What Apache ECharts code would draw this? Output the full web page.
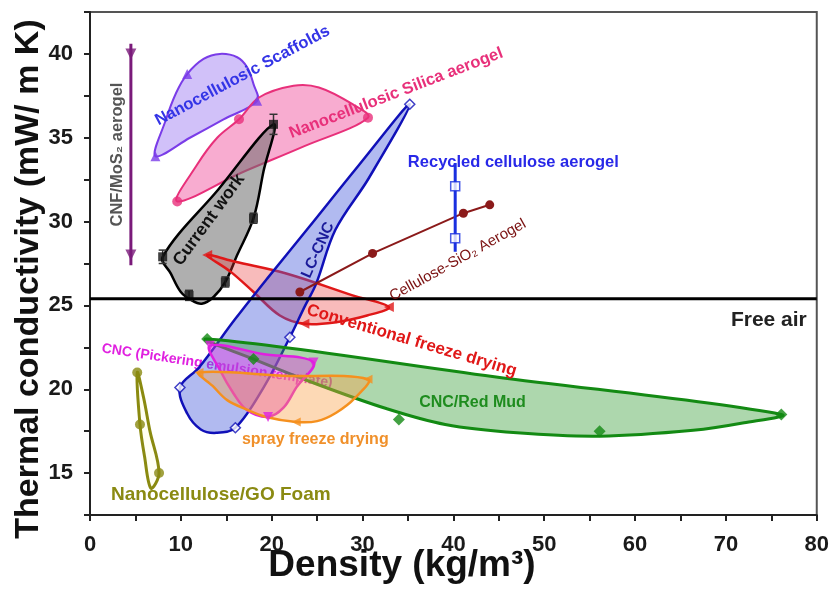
<!DOCTYPE html>
<html><head><meta charset="utf-8">
<script src="https://cdn.jsdelivr.net/npm/echarts@6/dist/echarts.min.js"></script>
<style>html,body{margin:0;padding:0;background:#fff}#c{width:832px;height:590px}</style>
</head><body><div id="c"></div>
<script>
// ---- data ----
const yTickLabels = [15, 20, 25, 30, 35, 40];
const xTickLabels = [0, 10, 20, 30, 40, 50, 60, 70, 80];
const freeAir = 25.4;

const scaffoldsX = [7.2, 8.3, 9.5, 10.7, 12.5, 14.3, 16.2, 17.3, 18.0, 18.4, 14.7, 11.0];
const scaffoldsY = [33.9, 36.0, 37.7, 38.8, 39.7, 40.0, 39.8, 39.2, 38.2, 37.2, 36.1, 35.0];
const scaffoldsMarkX = [7.2, 10.7, 18.4];
const scaffoldsMarkY = [33.9, 38.8, 37.2];

const silicaX = [9.6, 11.8, 14.0, 16.4, 18.6, 22.4, 25.2, 28.9, 30.6, 23.6, 16.6];
const silicaY = [31.2, 33.4, 35.0, 36.1, 37.4, 38.1, 38.0, 37.0, 36.2, 34.5, 32.9];
const silicaMarkX = [9.6, 16.4, 30.6];
const silicaMarkY = [31.2, 36.1, 36.2];

const currentX = [20.2, 14.1, 8.0, 8.9, 10.0, 11.2, 12.3, 13.6, 14.9, 16.2, 18.0, 19.1];
const currentY = [35.8, 31.9, 27.9, 26.9, 25.8, 25.3, 25.1, 25.5, 26.4, 28.0, 30.2, 33.0];
const currentMarkX = [20.2, 18.0, 8.0, 10.9, 14.9];
const currentMarkY = [35.8, 30.2, 27.9, 25.6, 26.4];
const currentErr = [0.6, 0.3, 0.4, 0.3, 0.3];

const lccncX = [35.2, 29.5, 24.0, 19.5, 16.0, 12.0, 9.9, 10.7, 12.2, 13.9, 16.0, 19.1, 22.0, 23.6, 24.9, 27.0, 30.7];
const lccncY = [37.0, 33.3, 29.6, 26.6, 24.2, 21.3, 20.1, 18.55, 17.6, 17.4, 17.7, 20.1, 23.1, 24.9, 26.3, 29.5, 32.6];
const lccncMarkX = [35.2, 22.0, 16.0, 9.9];
const lccncMarkY = [37.0, 23.1, 17.7, 20.1];

const convX = [12.9, 15.5, 18.0, 20.9, 23.6, 27.1, 30.5, 32.9, 28.9, 21.6, 16.0];
const convY = [28.0, 27.0, 25.8, 24.4, 23.9, 24.0, 24.4, 24.9, 25.6, 26.9, 27.6];
const convMarkX = [12.9, 23.6, 32.9];
const convMarkY = [28.0, 23.9, 24.9];

const sio2X = [23.1, 31.1, 41.1, 44.0];
const sio2Y = [25.8, 28.1, 30.5, 31.0];

const recycledX = [40.2, 40.2];
const recycledY = [32.1, 29.0];
const recycledRange = [28.2, 33.5];

const mos2X = [4.5, 4.5];
const mos2Y = [40.0, 28.0];
const mos2Range = [27.4, 40.6];

const redMudX = [12.9, 18.0, 25.0, 32.6, 39.1, 47.0, 56.1, 66.4, 72.0, 76.1, 44.5];
const redMudY = [23.0, 21.8, 20.3, 18.85, 17.9, 17.4, 17.2, 17.55, 18.0, 18.5, 20.75];
const redMudMarkX = [12.9, 18.0, 34.0, 56.1, 76.1];
const redMudMarkY = [23.0, 21.8, 18.2, 17.5, 18.5];

const pickX = [13.2, 14.35, 15.8, 17.3, 19.6, 21.3, 22.7, 24.6, 19.0];
const pickY = [22.6, 21.1, 19.75, 18.75, 18.35, 18.9, 20.1, 21.6, 22.1];
const pickMarkX = [13.2, 19.6, 24.6];
const pickMarkY = [22.6, 18.35, 21.6];

const sprayX = [12.0, 13.5, 15.1, 17.2, 19.4, 22.7, 25.0, 27.1, 29.2, 30.6, 21.3];
const sprayY = [21.0, 20.2, 19.35, 18.8, 18.35, 18.05, 18.1, 18.6, 19.5, 20.6, 20.8];
const sprayMarkX = [12.0, 22.7, 30.6];
const sprayMarkY = [21.0, 18.05, 20.6];

const goX = [5.2, 5.5, 6.0, 6.7, 7.6, 6.6, 5.9];
const goY = [21.0, 17.9, 16.0, 14.1, 15.0, 17.5, 19.5];
const goMarkX = [5.2, 5.5, 7.6];
const goMarkY = [21.0, 17.9, 15.0];

// ---- annotations (text anchored in data coordinates) ----
const FONT = "'Liberation Sans', Arial, sans-serif";
const labelsOver = [
  {t: 'Nanocellulosic Scaffolds', x: 16.8, y: 38.7, a: 28, c: '#3434e6', s: 16.5},
  {t: 'Nanocellulosic Silica aerogel', x: 33.7, y: 37.65, a: 21, c: '#e8307a', s: 16.5},
  {t: 'CNF/MoS\u2082 aerogel', x: 3.0, y: 34.0, a: 90, c: '#555555', s: 16.5},
  {t: 'Current work', x: 13.1, y: 30.1, a: 54, c: '#111111', s: 17.5},
  {t: 'LC-CNC', x: 25.1, y: 28.3, a: 66, c: '#1a1a9a', s: 15.5},
  {t: 'Recycled cellulose aerogel', x: 46.6, y: 33.55, a: 0, c: '#2828e8', s: 16.5},
  {t: 'Cellulose-SiO\u2082 Aerogel', x: 40.5, y: 27.7, a: 29, c: '#7a1010', s: 15, n: true},
  {t: 'Conventional freeze drying', x: 35.4, y: 22.9, a: -16.5, c: '#e01818', s: 17},
  {t: 'CNC/Red Mud', x: 42.1, y: 19.2, a: 0, c: '#1e8c1e', s: 16},
  {t: 'spray freeze drying', x: 24.8, y: 17.0, a: 0, c: '#f0902a', s: 16},
  {t: 'Nanocellulose/GO Foam', x: 14.4, y: 13.7, a: 0, c: '#8a8a12', s: 19}
];
const labelsUnder = [
  {t: 'CNC (Pickering emulsion template)', x: 14.0, y: 21.4, a: -8.6, c: '#e020e0', s: 14}
];

function areaSeries(xs, ys, stroke, fill, lw) {
  return {
    type: 'custom', coordinateSystem: 'cartesian2d', silent: true, clip: true,
    data: xs.map((x, i) => [x, ys[i]]),
    renderItem(params, api) {
      if (params.dataIndex !== 0) return null;
      const pts = xs.map((x, i) => api.coord([x, ys[i]]));
      return {type: 'polygon', shape: {points: pts, smooth: 0.35},
        style: {fill: fill, stroke: stroke, lineWidth: lw, lineJoin: 'round'}};
    }
  };
}
function markSeries(xs, ys, symbol, size, color, hollow, rotate) {
  return {
    type: 'scatter', silent: true, symbol: symbol, symbolSize: size, symbolRotate: rotate || 0,
    data: xs.map((x, i) => [x, ys[i]]),
    itemStyle: hollow ? {color: '#ffffff', borderColor: color, borderWidth: 1.5} : {color: color},
    z: 3
  };
}
function vline(x, range, color, w) {
  return {type: 'line', silent: true, symbol: 'none', data: [[x, range[0]], [x, range[1]]],
    lineStyle: {color: color, width: w}, z: 3};
}
function labelSeries(list, z) {
  return {
    type: 'custom', coordinateSystem: 'cartesian2d', silent: true, clip: false, z: z,
    data: list.map(l => [l.x, l.y]),
    renderItem(params, api) {
      const l = list[params.dataIndex];
      const p = api.coord([l.x, l.y]);
      return {type: 'text', x: p[0], y: p[1], rotation: l.a * Math.PI / 180,
        style: {text: l.t, fill: l.c, font: (l.n ? '' : 'bold ') + l.s + 'px ' + FONT,
          align: 'center', verticalAlign: 'middle'}};
    }
  };
}

const chart = echarts.init(document.getElementById('c'));
chart.setOption({
  animation: false,
  backgroundColor: '#ffffff',
  grid: {left: 90, right: 8, top: 12, bottom: 75, show: true, borderColor: '#555', borderWidth: 2, backgroundColor: 'transparent'},
  xAxis: {
    type: 'value', min: 0, max: 80, interval: 5,
    axisLine: {show: true, lineStyle: {color: '#222', width: 2}},
    axisTick: {show: true, length: 6, lineStyle: {color: '#222', width: 2}},
    splitLine: {show: false},
    axisLabel: {margin: 19, color: '#1a1a1a', fontWeight: 'bold', fontSize: 22, fontFamily: FONT,
      formatter: v => xTickLabels.indexOf(v) >= 0 ? String(v) : ''}
  },
  yAxis: {
    type: 'value', min: 12.5, max: 42.5, interval: 2.5,
    axisLine: {show: true, lineStyle: {color: '#222', width: 2}},
    axisTick: {show: true, length: 6, lineStyle: {color: '#222', width: 2}},
    splitLine: {show: false},
    axisLabel: {margin: 17, color: '#1a1a1a', fontWeight: 'bold', fontSize: 22, fontFamily: FONT,
      formatter: v => yTickLabels.indexOf(v) >= 0 ? String(v) : ''}
  },
  graphic: [
    {type: 'text', x: 29, y: 279, rotation: Math.PI / 2,
      style: {text: 'Thermal conductivity (mW/ m K)', fill: '#111', font: 'bold 34px ' + FONT, align: 'center', verticalAlign: 'middle'}},
    {type: 'text', x: 402, y: 566,
      style: {text: 'Density (kg/m\u00b3)', fill: '#111', font: 'bold 37px ' + FONT, align: 'center', verticalAlign: 'middle'}}
  ],
  series: [
    labelSeries(labelsUnder, 1),
    areaSeries(scaffoldsX, scaffoldsY, '#7a3ce8', 'rgba(140,100,240,0.40)', 2),
    areaSeries(silicaX, silicaY, '#e8307a', 'rgba(240,70,150,0.45)', 2),
    areaSeries(currentX, currentY, '#000000', 'rgba(110,110,110,0.55)', 2.5),
    areaSeries(convX, convY, '#e01818', 'rgba(235,60,60,0.35)', 2.5),
    areaSeries(lccncX, lccncY, '#1010b8', 'rgba(70,90,220,0.42)', 2.5),
    areaSeries(redMudX, redMudY, '#138a13', 'rgba(60,160,60,0.42)', 3),
    areaSeries(pickX, pickY, '#e020e0', 'rgba(225,60,225,0.45)', 2.5),
    areaSeries(sprayX, sprayY, '#f5901e', 'rgba(250,160,70,0.40)', 2.5),
    areaSeries(goX, goY, '#8a8a10', 'rgba(255,255,230,0.5)', 3),
    {type: 'line', silent: true, data: sio2X.map((x, i) => [x, sio2Y[i]]), symbol: 'circle', symbolSize: 9,
      lineStyle: {color: '#8b1a1a', width: 2}, itemStyle: {color: '#8b1a1a'}, z: 3},
    vline(recycledX[0], recycledRange, '#1a30e0', 3),
    vline(mos2X[0], mos2Range, '#7a1a7a', 3),
    {type: 'custom', coordinateSystem: 'cartesian2d', silent: true, z: 3,
      data: currentMarkX.map((x, i) => [x, currentMarkY[i], currentErr[i]]),
      renderItem(params, api) {
        const x = api.value(0), y = api.value(1), e = api.value(2);
        const a = api.coord([x, y + e]), b = api.coord([x, y - e]);
        return {type: 'group', children: [
          {type: 'line', shape: {x1: a[0], y1: a[1], x2: b[0], y2: b[1]}, style: {stroke: '#333', lineWidth: 1.5}},
          {type: 'line', shape: {x1: a[0] - 4, y1: a[1], x2: a[0] + 4, y2: a[1]}, style: {stroke: '#333', lineWidth: 1.5}},
          {type: 'line', shape: {x1: b[0] - 4, y1: b[1], x2: b[0] + 4, y2: b[1]}, style: {stroke: '#333', lineWidth: 1.5}}
        ]};
      }},
    markSeries(scaffoldsMarkX, scaffoldsMarkY, 'triangle', 10, '#7a3ce8', false),
    markSeries(silicaMarkX, silicaMarkY, 'circle', 10, '#e8307a', false),
    markSeries(currentMarkX, currentMarkY, 'rect', 9, '#111111', false),
    markSeries(lccncMarkX, lccncMarkY, 'diamond', 10, '#1010b8', true),
    markSeries(convMarkX, convMarkY, 'triangle', 10, '#e01818', false, 90),
    markSeries(recycledX, recycledY, 'rect', 9, '#1a30e0', true),
    markSeries(mos2X, mos2Y, 'triangle', 11, '#7a1a7a', false, 180),
    markSeries(redMudMarkX, redMudMarkY, 'diamond', 12, '#138a13', false),
    markSeries(pickMarkX, pickMarkY, 'triangle', 10, '#e020e0', false, 180),
    markSeries(sprayMarkX, sprayMarkY, 'triangle', 9, '#f5901e', false, 90),
    markSeries(goMarkX, goMarkY, 'circle', 10, '#8a8a10', false),
    {type: 'line', silent: true, symbol: 'none', data: [[0, freeAir], [80, freeAir]],
      lineStyle: {color: '#000', width: 3}, z: 4},
    labelSeries(labelsOver, 5),
    {type: 'custom', coordinateSystem: 'cartesian2d', silent: true, clip: false, z: 5,
      data: [[80, freeAir]],
      renderItem(params, api) {
        const p = api.coord([78.9, freeAir - 1.3]);
        return {type: 'text', x: p[0], y: p[1],
          style: {text: 'Free air', fill: '#222', font: 'bold 21px ' + FONT, align: 'right', verticalAlign: 'middle'}};
      }}
  ]
});
</script></body></html>
